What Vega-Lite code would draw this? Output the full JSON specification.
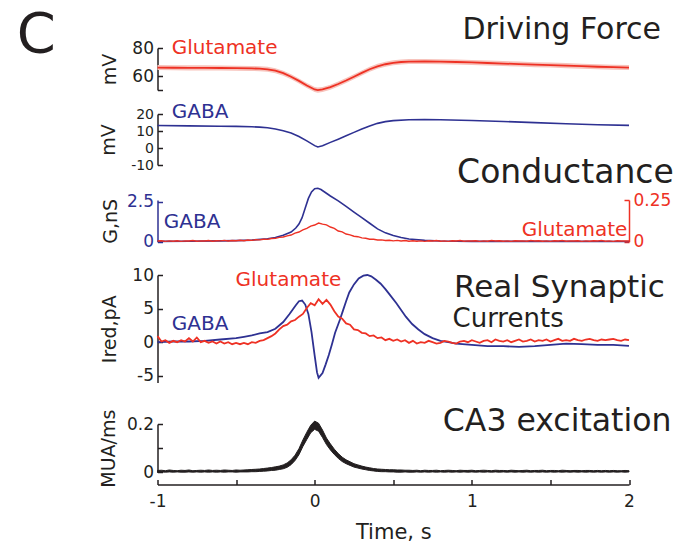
{
"$schema": "https://vega.github.io/schema/vega-lite/v6.json",
"autosize": {"type": "none"},
"padding": {"left": 157.5, "top": 48, "right": 534.5, "bottom": 500},
"background": "white",
"spacing": 0,
"bounds": "flush",
"resolve": {"scale": {"x": "independent", "y": "independent"}},
"config": {
  "view": {"stroke": null},
  "axis": {"grid": false, "domainColor": "#231f20", "tickColor": "#231f20", "labelColor": "#231f20", "titleColor": "#231f20", "labelFont": "DejaVu Sans", "titleFont": "DejaVu Sans", "labelFontSize": 17, "titleFontSize": 19, "titleFontWeight": "normal", "tickSize": -5, "labelPadding": 9, "domainWidth": 1.5, "tickWidth": 1.5, "labelFlush": false, "labelOverlap": false, "tickCount": 20, "titlePadding": 8},
  "text": {"font": "DejaVu Sans"}
},
"datasets": {
  "gluDF": [
    {"t":-1,"v":66.0,"lo":64.2,"hi":67.8},{"t":-0.9,"v":65.9,"lo":64.1,"hi":67.7},{"t":-0.8,"v":65.8,"lo":64.0,"hi":67.6},{"t":-0.7,"v":65.8,"lo":64.0,"hi":67.6},{"t":-0.6,"v":65.7,"lo":63.9,"hi":67.5},{"t":-0.5,"v":65.6,"lo":63.8,"hi":67.4},{"t":-0.4,"v":65.4,"lo":63.6,"hi":67.2},{"t":-0.35,"v":65.2,"lo":63.4,"hi":67.0},{"t":-0.3,"v":64.8,"lo":63.0,"hi":66.6},{"t":-0.25,"v":63.8,"lo":62.0,"hi":65.6},{"t":-0.2,"v":62.0,"lo":60.2,"hi":63.8},{"t":-0.15,"v":59.5,"lo":57.7,"hi":61.3},{"t":-0.1,"v":56.5,"lo":54.7,"hi":58.3},{"t":-0.05,"v":53.2,"lo":51.4,"hi":55.0},{"t":0,"v":50.4,"lo":48.6,"hi":52.2},{"t":0.02,"v":49.9,"lo":48.1,"hi":51.7},{"t":0.05,"v":50.4,"lo":48.6,"hi":52.2},{"t":0.1,"v":52.0,"lo":50.2,"hi":53.8},{"t":0.15,"v":54.3,"lo":52.5,"hi":56.1},{"t":0.2,"v":56.8,"lo":55.0,"hi":58.6},{"t":0.25,"v":59.5,"lo":57.7,"hi":61.3},{"t":0.3,"v":62.2,"lo":60.4,"hi":64.0},{"t":0.35,"v":64.8,"lo":63.0,"hi":66.6},{"t":0.4,"v":66.9,"lo":65.1,"hi":68.7},{"t":0.45,"v":68.4,"lo":66.6,"hi":70.2},{"t":0.5,"v":69.4,"lo":67.6,"hi":71.2},{"t":0.55,"v":70.0,"lo":68.2,"hi":71.8},{"t":0.6,"v":70.3,"lo":68.5,"hi":72.1},{"t":0.7,"v":70.4,"lo":68.6,"hi":72.2},{"t":0.8,"v":70.2,"lo":68.4,"hi":72.0},{"t":0.9,"v":70.0,"lo":68.2,"hi":71.8},{"t":1.0,"v":69.7,"lo":67.9,"hi":71.5},{"t":1.1,"v":69.3,"lo":67.5,"hi":71.1},{"t":1.2,"v":68.9,"lo":67.1,"hi":70.7},{"t":1.3,"v":68.5,"lo":66.7,"hi":70.3},{"t":1.4,"v":68.1,"lo":66.3,"hi":69.9},{"t":1.5,"v":67.8,"lo":66.0,"hi":69.6},{"t":1.6,"v":67.4,"lo":65.6,"hi":69.2},{"t":1.7,"v":67.0,"lo":65.2,"hi":68.8},{"t":1.8,"v":66.6,"lo":64.8,"hi":68.4},{"t":1.9,"v":66.3,"lo":64.5,"hi":68.1},{"t":2.0,"v":66.0,"lo":64.2,"hi":67.8}
  ],
  "gabaDF": [
    {"t":-1,"v":13.2},{"t":-0.8,"v":13.0},{"t":-0.6,"v":12.8},{"t":-0.5,"v":12.7},{"t":-0.4,"v":12.5},{"t":-0.35,"v":12.3},{"t":-0.3,"v":11.9},{"t":-0.25,"v":11.2},{"t":-0.2,"v":10.2},{"t":-0.15,"v":8.8},{"t":-0.1,"v":6.8},{"t":-0.05,"v":4.2},{"t":0,"v":1.4},{"t":0.02,"v":0.6},{"t":0.05,"v":1.3},{"t":0.1,"v":3.3},{"t":0.15,"v":5.2},{"t":0.2,"v":7.2},{"t":0.25,"v":9.2},{"t":0.3,"v":11.2},{"t":0.35,"v":13.0},{"t":0.4,"v":14.5},{"t":0.45,"v":15.5},{"t":0.5,"v":16.1},{"t":0.6,"v":16.6},{"t":0.7,"v":16.7},{"t":0.8,"v":16.6},{"t":1.0,"v":16.2},{"t":1.2,"v":15.6},{"t":1.4,"v":14.9},{"t":1.6,"v":14.3},{"t":1.8,"v":13.7},{"t":2.0,"v":13.3}
  ],
  "gabaG": [
    {"t":-1,"v":0.02},{"t":-0.8,"v":0.03},{"t":-0.6,"v":0.05},{"t":-0.5,"v":0.07},{"t":-0.4,"v":0.1},{"t":-0.3,"v":0.18},{"t":-0.25,"v":0.26},{"t":-0.2,"v":0.4},{"t":-0.15,"v":0.6},{"t":-0.12,"v":0.85},{"t":-0.1,"v":1.1},{"t":-0.08,"v":1.5},{"t":-0.06,"v":2.1},{"t":-0.04,"v":2.7},{"t":-0.02,"v":3.1},{"t":0,"v":3.3},{"t":0.02,"v":3.33},{"t":0.04,"v":3.25},{"t":0.07,"v":3.05},{"t":0.1,"v":2.85},{"t":0.15,"v":2.55},{"t":0.2,"v":2.2},{"t":0.25,"v":1.85},{"t":0.3,"v":1.5},{"t":0.35,"v":1.15},{"t":0.4,"v":0.8},{"t":0.45,"v":0.55},{"t":0.5,"v":0.38},{"t":0.55,"v":0.26},{"t":0.6,"v":0.17},{"t":0.7,"v":0.08},{"t":0.8,"v":0.04},{"t":1.0,"v":0.02},{"t":1.5,"v":0.02},{"t":2.0,"v":0.01}
  ],
  "gabaI": [
    {"t":-1,"v":0.0},{"t":-0.9,"v":0.1},{"t":-0.8,"v":0.1},{"t":-0.7,"v":0.2},{"t":-0.6,"v":0.4},{"t":-0.5,"v":0.6},{"t":-0.45,"v":0.8},{"t":-0.4,"v":1.0},{"t":-0.35,"v":1.3},{"t":-0.3,"v":1.5},{"t":-0.25,"v":2.0},{"t":-0.2,"v":3.0},{"t":-0.16,"v":4.2},{"t":-0.12,"v":5.5},{"t":-0.1,"v":6.1},{"t":-0.08,"v":6.2},{"t":-0.06,"v":5.6},{"t":-0.04,"v":4.2},{"t":-0.02,"v":1.5},{"t":0,"v":-2.0},{"t":0.015,"v":-4.5},{"t":0.025,"v":-5.3},{"t":0.05,"v":-4.6},{"t":0.07,"v":-3.3},{"t":0.09,"v":-1.9},{"t":0.11,"v":-0.3},{"t":0.13,"v":1.4},{"t":0.16,"v":3.3},{"t":0.18,"v":4.7},{"t":0.2,"v":6.1},{"t":0.22,"v":7.4},{"t":0.25,"v":8.6},{"t":0.28,"v":9.5},{"t":0.31,"v":9.9},{"t":0.335,"v":10.0},{"t":0.36,"v":9.8},{"t":0.39,"v":9.3},{"t":0.42,"v":8.7},{"t":0.45,"v":7.9},{"t":0.48,"v":7.0},{"t":0.52,"v":5.8},{"t":0.55,"v":4.8},{"t":0.58,"v":3.8},{"t":0.62,"v":2.7},{"t":0.66,"v":1.9},{"t":0.7,"v":1.2},{"t":0.75,"v":0.6},{"t":0.8,"v":0.2},{"t":0.85,"v":0.0},{"t":0.9,"v":-0.2},{"t":1.0,"v":-0.4},{"t":1.1,"v":-0.6},{"t":1.2,"v":-0.6},{"t":1.3,"v":-0.7},{"t":1.4,"v":-0.6},{"t":1.5,"v":-0.4},{"t":1.6,"v":-0.2},{"t":1.7,"v":-0.3},{"t":1.8,"v":-0.4},{"t":1.9,"v":-0.4},{"t":2.0,"v":-0.55}
  ],
  "noisy": [
    {"t":-1,"gG":0.004,"gI":0.9,"mlo":0.001,"mhi":0.008},
    {"t":-0.975,"gG":0.006,"gI":0.1,"mlo":0.002,"mhi":0.009},
    {"t":-0.95,"gG":0.002,"gI":0.3,"mlo":0.001,"mhi":0.007},
    {"t":-0.925,"gG":0.005,"gI":-0.1,"mlo":0.002,"mhi":0.010},
    {"t":-0.9,"gG":0.003,"gI":0.2,"mlo":0.001,"mhi":0.008},
    {"t":-0.875,"gG":0.006,"gI":0.0,"mlo":0.002,"mhi":0.007},
    {"t":-0.85,"gG":0.002,"gI":0.3,"mlo":0.001,"mhi":0.009},
    {"t":-0.825,"gG":0.005,"gI":0.1,"mlo":0.001,"mhi":0.008},
    {"t":-0.8,"gG":0.004,"gI":0.6,"mlo":0.002,"mhi":0.010},
    {"t":-0.775,"gG":0.007,"gI":0.1,"mlo":0.001,"mhi":0.007},
    {"t":-0.75,"gG":0.003,"gI":0.7,"mlo":0.002,"mhi":0.008},
    {"t":-0.725,"gG":0.005,"gI":0.0,"mlo":0.001,"mhi":0.009},
    {"t":-0.7,"gG":0.004,"gI":0.2,"mlo":0.002,"mhi":0.008},
    {"t":-0.675,"gG":0.007,"gI":-0.1,"mlo":0.001,"mhi":0.010},
    {"t":-0.65,"gG":0.003,"gI":0.1,"mlo":0.002,"mhi":0.008},
    {"t":-0.625,"gG":0.006,"gI":-0.2,"mlo":0.001,"mhi":0.009},
    {"t":-0.6,"gG":0.005,"gI":0.1,"mlo":0.002,"mhi":0.008},
    {"t":-0.575,"gG":0.008,"gI":-0.2,"mlo":0.001,"mhi":0.010},
    {"t":-0.55,"gG":0.004,"gI":0.0,"mlo":0.002,"mhi":0.009},
    {"t":-0.525,"gG":0.007,"gI":-0.3,"mlo":0.002,"mhi":0.008},
    {"t":-0.5,"gG":0.006,"gI":-0.1,"mlo":0.001,"mhi":0.010},
    {"t":-0.475,"gG":0.009,"gI":-0.3,"mlo":0.002,"mhi":0.009},
    {"t":-0.45,"gG":0.006,"gI":-0.1,"mlo":0.002,"mhi":0.010},
    {"t":-0.425,"gG":0.010,"gI":-0.3,"mlo":0.002,"mhi":0.011},
    {"t":-0.4,"gG":0.008,"gI":0.0,"mlo":0.003,"mhi":0.012},
    {"t":-0.375,"gG":0.012,"gI":-0.1,"mlo":0.003,"mhi":0.013},
    {"t":-0.35,"gG":0.011,"gI":0.2,"mlo":0.004,"mhi":0.014},
    {"t":-0.325,"gG":0.015,"gI":0.3,"mlo":0.005,"mhi":0.016},
    {"t":-0.3,"gG":0.014,"gI":0.6,"mlo":0.006,"mhi":0.018},
    {"t":-0.275,"gG":0.019,"gI":0.9,"mlo":0.008,"mhi":0.020},
    {"t":-0.25,"gG":0.020,"gI":1.3,"mlo":0.009,"mhi":0.023},
    {"t":-0.225,"gG":0.026,"gI":1.9,"mlo":0.012,"mhi":0.026},
    {"t":-0.2,"gG":0.028,"gI":2.4,"mlo":0.015,"mhi":0.031},
    {"t":-0.175,"gG":0.035,"gI":2.6,"mlo":0.021,"mhi":0.039},
    {"t":-0.15,"gG":0.040,"gI":3.1,"mlo":0.032,"mhi":0.052},
    {"t":-0.125,"gG":0.051,"gI":3.3,"mlo":0.049,"mhi":0.071},
    {"t":-0.1,"gG":0.058,"gI":3.8,"mlo":0.073,"mhi":0.098},
    {"t":-0.075,"gG":0.071,"gI":4.2,"mlo":0.107,"mhi":0.134},
    {"t":-0.05,"gG":0.080,"gI":5.1,"mlo":0.136,"mhi":0.166},
    {"t":-0.025,"gG":0.093,"gI":5.8,"mlo":0.164,"mhi":0.195},
    {"t":0,"gG":0.100,"gI":5.5,"mlo":0.178,"mhi":0.212},
    {"t":0.025,"gG":0.112,"gI":6.4,"mlo":0.170,"mhi":0.203},
    {"t":0.05,"gG":0.105,"gI":5.7,"mlo":0.144,"mhi":0.175},
    {"t":0.075,"gG":0.101,"gI":6.3,"mlo":0.115,"mhi":0.142},
    {"t":0.1,"gG":0.088,"gI":5.6,"mlo":0.093,"mhi":0.118},
    {"t":0.125,"gG":0.080,"gI":4.6,"mlo":0.074,"mhi":0.096},
    {"t":0.15,"gG":0.064,"gI":3.8,"mlo":0.058,"mhi":0.078},
    {"t":0.175,"gG":0.059,"gI":3.5,"mlo":0.045,"mhi":0.063},
    {"t":0.2,"gG":0.046,"gI":2.8,"mlo":0.036,"mhi":0.052},
    {"t":0.225,"gG":0.041,"gI":2.6,"mlo":0.029,"mhi":0.044},
    {"t":0.25,"gG":0.033,"gI":1.9,"mlo":0.022,"mhi":0.036},
    {"t":0.275,"gG":0.030,"gI":1.8,"mlo":0.018,"mhi":0.031},
    {"t":0.3,"gG":0.023,"gI":1.4,"mlo":0.014,"mhi":0.026},
    {"t":0.325,"gG":0.021,"gI":1.3,"mlo":0.011,"mhi":0.022},
    {"t":0.35,"gG":0.015,"gI":0.9,"mlo":0.008,"mhi":0.019},
    {"t":0.375,"gG":0.015,"gI":1.0,"mlo":0.006,"mhi":0.016},
    {"t":0.4,"gG":0.010,"gI":0.6,"mlo":0.004,"mhi":0.014},
    {"t":0.425,"gG":0.011,"gI":0.7,"mlo":0.003,"mhi":0.013},
    {"t":0.45,"gG":0.007,"gI":0.3,"mlo":0.003,"mhi":0.012},
    {"t":0.475,"gG":0.009,"gI":0.5,"mlo":0.002,"mhi":0.011},
    {"t":0.5,"gG":0.005,"gI":0.2,"mlo":0.002,"mhi":0.011},
    {"t":0.525,"gG":0.008,"gI":0.4,"mlo":0.001,"mhi":0.010},
    {"t":0.55,"gG":0.004,"gI":0.1,"mlo":0.001,"mhi":0.010},
    {"t":0.575,"gG":0.007,"gI":0.3,"mlo":0.002,"mhi":0.009},
    {"t":0.6,"gG":0.003,"gI":-0.1,"mlo":0.001,"mhi":0.009},
    {"t":0.625,"gG":0.006,"gI":0.2,"mlo":0.001,"mhi":0.008},
    {"t":0.65,"gG":0.003,"gI":-0.2,"mlo":0.002,"mhi":0.009},
    {"t":0.675,"gG":0.005,"gI":0.0,"mlo":0.001,"mhi":0.007},
    {"t":0.7,"gG":0.002,"gI":-0.1,"mlo":0.002,"mhi":0.009},
    {"t":0.725,"gG":0.006,"gI":0.2,"mlo":0.001,"mhi":0.008},
    {"t":0.75,"gG":0.004,"gI":0.0,"mlo":0.002,"mhi":0.008},
    {"t":0.775,"gG":0.007,"gI":-0.2,"mlo":0.001,"mhi":0.009},
    {"t":0.8,"gG":0.003,"gI":-0.1,"mlo":0.002,"mhi":0.007},
    {"t":0.825,"gG":0.005,"gI":0.2,"mlo":0.001,"mhi":0.008},
    {"t":0.85,"gG":0.002,"gI":0.1,"mlo":0.002,"mhi":0.009},
    {"t":0.875,"gG":0.006,"gI":-0.1,"mlo":0.001,"mhi":0.008},
    {"t":0.9,"gG":0.004,"gI":-0.2,"mlo":0.002,"mhi":0.007},
    {"t":0.925,"gG":0.007,"gI":0.1,"mlo":0.001,"mhi":0.009},
    {"t":0.95,"gG":0.003,"gI":0.2,"mlo":0.002,"mhi":0.008},
    {"t":0.975,"gG":0.005,"gI":0.0,"mlo":0.001,"mhi":0.008},
    {"t":1.0,"gG":0.004,"gI":0.3,"mlo":0.002,"mhi":0.009},
    {"t":1.025,"gG":0.006,"gI":0.1,"mlo":0.001,"mhi":0.007},
    {"t":1.05,"gG":0.002,"gI":-0.1,"mlo":0.002,"mhi":0.008},
    {"t":1.075,"gG":0.005,"gI":0.2,"mlo":0.001,"mhi":0.009},
    {"t":1.1,"gG":0.003,"gI":0.3,"mlo":0.002,"mhi":0.008},
    {"t":1.125,"gG":0.007,"gI":0.0,"mlo":0.001,"mhi":0.007},
    {"t":1.15,"gG":0.004,"gI":0.4,"mlo":0.002,"mhi":0.009},
    {"t":1.175,"gG":0.006,"gI":0.2,"mlo":0.001,"mhi":0.008},
    {"t":1.2,"gG":0.003,"gI":0.1,"mlo":0.002,"mhi":0.008},
    {"t":1.225,"gG":0.005,"gI":0.3,"mlo":0.001,"mhi":0.007},
    {"t":1.25,"gG":0.002,"gI":0.0,"mlo":0.002,"mhi":0.009},
    {"t":1.275,"gG":0.006,"gI":0.2,"mlo":0.001,"mhi":0.008},
    {"t":1.3,"gG":0.004,"gI":0.4,"mlo":0.002,"mhi":0.007},
    {"t":1.325,"gG":0.005,"gI":0.1,"mlo":0.001,"mhi":0.008},
    {"t":1.35,"gG":0.003,"gI":0.2,"mlo":0.002,"mhi":0.009},
    {"t":1.375,"gG":0.007,"gI":0.4,"mlo":0.001,"mhi":0.007},
    {"t":1.4,"gG":0.004,"gI":0.1,"mlo":0.002,"mhi":0.008},
    {"t":1.425,"gG":0.006,"gI":0.3,"mlo":0.001,"mhi":0.008},
    {"t":1.45,"gG":0.003,"gI":0.2,"mlo":0.002,"mhi":0.009},
    {"t":1.475,"gG":0.005,"gI":0.4,"mlo":0.001,"mhi":0.007},
    {"t":1.5,"gG":0.002,"gI":0.1,"mlo":0.002,"mhi":0.008},
    {"t":1.525,"gG":0.006,"gI":0.3,"mlo":0.001,"mhi":0.008},
    {"t":1.55,"gG":0.004,"gI":0.5,"mlo":0.002,"mhi":0.007},
    {"t":1.575,"gG":0.007,"gI":0.2,"mlo":0.001,"mhi":0.009},
    {"t":1.6,"gG":0.003,"gI":0.3,"mlo":0.002,"mhi":0.008},
    {"t":1.625,"gG":0.005,"gI":0.2,"mlo":0.001,"mhi":0.007},
    {"t":1.65,"gG":0.004,"gI":0.5,"mlo":0.002,"mhi":0.008},
    {"t":1.675,"gG":0.006,"gI":0.3,"mlo":0.001,"mhi":0.008},
    {"t":1.7,"gG":0.002,"gI":0.2,"mlo":0.002,"mhi":0.007},
    {"t":1.725,"gG":0.005,"gI":0.4,"mlo":0.001,"mhi":0.008},
    {"t":1.75,"gG":0.003,"gI":0.5,"mlo":0.002,"mhi":0.008},
    {"t":1.775,"gG":0.006,"gI":0.3,"mlo":0.001,"mhi":0.007},
    {"t":1.8,"gG":0.004,"gI":0.2,"mlo":0.002,"mhi":0.008},
    {"t":1.825,"gG":0.007,"gI":0.4,"mlo":0.001,"mhi":0.007},
    {"t":1.85,"gG":0.003,"gI":0.3,"mlo":0.002,"mhi":0.008},
    {"t":1.875,"gG":0.005,"gI":0.4,"mlo":0.001,"mhi":0.007},
    {"t":1.9,"gG":0.002,"gI":0.5,"mlo":0.002,"mhi":0.008},
    {"t":1.925,"gG":0.006,"gI":0.3,"mlo":0.001,"mhi":0.007},
    {"t":1.95,"gG":0.004,"gI":0.2,"mlo":0.002,"mhi":0.007},
    {"t":1.975,"gG":0.005,"gI":0.4,"mlo":0.001,"mhi":0.008},
    {"t":2.0,"gG":0.004,"gI":0.3,"mlo":0.002,"mhi":0.007}
  ]
},
"vconcat": [
  {
    "width": 471.5, "height": 66,
    "layer": [
      {"data": {"name": "gluDF"}, "mark": {"type": "area", "color": "#f7c3bc", "clip": false},
       "encoding": {
         "x": {"field": "t", "type": "quantitative", "scale": {"domain": [-1, 2]}, "axis": null},
         "y": {"field": "lo", "type": "quantitative", "scale": {"domain": [50, 80], "range": [42, 0]},
               "axis": {"title": "mV", "values": [50, 60, 80], "tickCount": 20, "labelOverlap": false, "labelExpr": "datum.value === 50 ? '' : toString(datum.value)", "titlePadding": 12}},
         "y2": {"field": "hi"}}},
      {"data": {"name": "gluDF"}, "mark": {"type": "line", "color": "#ee3124", "strokeWidth": 1.8, "clip": false},
       "encoding": {"x": {"field": "t", "type": "quantitative"}, "y": {"field": "v", "type": "quantitative"}}},
      {"data": {"values": [{"t": -1.895, "v": 89.3, "label": "C"}]}, "mark": {"type": "text", "align": "left", "baseline": "middle", "fontSize": 56, "color": "#231f20", "clip": false},
       "encoding": {"x": {"field": "t", "type": "quantitative"}, "y": {"field": "v", "type": "quantitative"}, "text": {"field": "label"}}},
      {"data": {"values": [{"t": 2.204, "v": 92.9, "label": "Driving Force"}]}, "mark": {"type": "text", "align": "right", "baseline": "middle", "fontSize": 30, "color": "#231f20", "clip": false},
       "encoding": {"x": {"field": "t", "type": "quantitative"}, "y": {"field": "v", "type": "quantitative"}, "text": {"field": "label"}}},
      {"data": {"values": [{"t": -0.909, "v": 80, "label": "Glutamate"}]}, "mark": {"type": "text", "align": "left", "baseline": "middle", "fontSize": 20, "color": "#ee3124", "clip": false},
       "encoding": {"x": {"field": "t", "type": "quantitative"}, "y": {"field": "v", "type": "quantitative"}, "text": {"field": "label"}}}
    ]
  },
  {
    "width": 471.5, "height": 86,
    "layer": [
      {"data": {"name": "gabaDF"}, "mark": {"type": "line", "color": "#2e3192", "strokeWidth": 1.6, "clip": false},
       "encoding": {
         "x": {"field": "t", "type": "quantitative", "scale": {"domain": [-1, 2]}, "axis": null},
         "y": {"field": "v", "type": "quantitative", "scale": {"domain": [-10, 20], "range": [51, 0]},
               "axis": {"title": "mV", "values": [-10, 0, 10, 20], "tickCount": 20, "labelOverlap": false, "labelFontSize": 14, "labelExpr": "toString(datum.value)", "titlePadding": 12}}}},
      {"data": {"values": [{"t": -0.909, "v": 21.2, "label": "GABA"}]}, "mark": {"type": "text", "align": "left", "baseline": "middle", "fontSize": 20, "color": "#2e3192", "clip": false},
       "encoding": {"x": {"field": "t", "type": "quantitative"}, "y": {"field": "v", "type": "quantitative"}, "text": {"field": "label"}}}
    ]
  },
  {
    "width": 471.5, "height": 75,
    "layer": [
      {"layer": [
        {"data": {"name": "gabaG"}, "mark": {"type": "line", "color": "#2e3192", "strokeWidth": 1.6, "clip": false},
         "encoding": {
           "x": {"field": "t", "type": "quantitative", "scale": {"domain": [-1, 2]}, "axis": null},
           "y": {"field": "v", "type": "quantitative", "scale": {"domain": [0, 2.5], "range": [41.7, 0]},
                 "axis": {"title": "G,nS", "values": [0, 2.5], "tickCount": 20, "labelOverlap": false, "labelExpr": "toString(datum.value)", "domainColor": "#2e3192", "tickColor": "#2e3192", "labelColor": "#2e3192", "titlePadding": 6}}}},
        {"data": {"values": [{"t": 2.285, "v": 4.3, "label": "Conductance"}]}, "mark": {"type": "text", "align": "right", "baseline": "middle", "fontSize": 33, "color": "#231f20", "clip": false},
         "encoding": {"x": {"field": "t", "type": "quantitative"}, "y": {"field": "v", "type": "quantitative"}, "text": {"field": "label"}}},
        {"data": {"values": [{"t": -0.96, "v": 1.24, "label": "GABA"}]}, "mark": {"type": "text", "align": "left", "baseline": "middle", "fontSize": 20, "color": "#2e3192", "clip": false},
         "encoding": {"x": {"field": "t", "type": "quantitative"}, "y": {"field": "v", "type": "quantitative"}, "text": {"field": "label"}}},
        {"data": {"values": [{"t": 1.99, "v": 0.76, "label": "Glutamate"}]}, "mark": {"type": "text", "align": "right", "baseline": "middle", "fontSize": 20, "color": "#ee3124", "clip": false},
         "encoding": {"x": {"field": "t", "type": "quantitative"}, "y": {"field": "v", "type": "quantitative"}, "text": {"field": "label"}}}
      ]},
      {"layer": [
        {"data": {"name": "noisy"}, "mark": {"type": "line", "color": "#ee3124", "strokeWidth": 1.4, "clip": false},
         "encoding": {
           "x": {"field": "t", "type": "quantitative"},
           "y": {"field": "gG", "type": "quantitative", "scale": {"domain": [0, 0.25], "range": [41.7, 0]},
                 "axis": {"orient": "right", "title": null, "values": [0, 0.25], "tickCount": 20, "labelOverlap": false, "labelExpr": "toString(datum.value)", "domainColor": "#ee3124", "tickColor": "#ee3124", "labelColor": "#ee3124"}}}}
      ]}
    ],
    "resolve": {"scale": {"y": "independent"}}
  },
  {
    "width": 471.5, "height": 148.3,
    "layer": [
      {"data": {"name": "gabaI"}, "mark": {"type": "line", "color": "#2e3192", "strokeWidth": 1.8, "clip": false},
       "encoding": {
         "x": {"field": "t", "type": "quantitative", "scale": {"domain": [-1, 2]}, "axis": null},
         "y": {"field": "v", "type": "quantitative", "scale": {"domain": [-5, 10], "range": [107.5, 0]},
               "axis": {"title": "Ired,pA", "values": [-5, 0, 5, 10], "tickCount": 20, "labelOverlap": false, "labelExpr": "toString(datum.value)", "titlePadding": 12}}}},
      {"data": {"name": "noisy"}, "mark": {"type": "line", "color": "#ee3124", "strokeWidth": 1.8, "clip": false},
       "encoding": {"x": {"field": "t", "type": "quantitative"}, "y": {"field": "gI", "type": "quantitative"}}},
      {"data": {"values": [{"t": -0.167, "v": 9.2, "label": "Glutamate"}]}, "mark": {"type": "text", "align": "center", "baseline": "middle", "fontSize": 20, "color": "#ee3124", "clip": false},
       "encoding": {"x": {"field": "t", "type": "quantitative"}, "y": {"field": "v", "type": "quantitative"}, "text": {"field": "label"}}},
      {"data": {"values": [{"t": -0.909, "v": 2.7, "label": "GABA"}]}, "mark": {"type": "text", "align": "left", "baseline": "middle", "fontSize": 20, "color": "#2e3192", "clip": false},
       "encoding": {"x": {"field": "t", "type": "quantitative"}, "y": {"field": "v", "type": "quantitative"}, "text": {"field": "label"}}},
      {"data": {"values": [{"t": 0.887, "v": 8.05, "label": "Real Synaptic"}]}, "mark": {"type": "text", "align": "left", "baseline": "middle", "fontSize": 31, "color": "#231f20", "clip": false},
       "encoding": {"x": {"field": "t", "type": "quantitative"}, "y": {"field": "v", "type": "quantitative"}, "text": {"field": "label"}}},
      {"data": {"values": [{"t": 0.877, "v": 3.4, "label": "Currents"}]}, "mark": {"type": "text", "align": "left", "baseline": "middle", "fontSize": 26, "color": "#231f20", "clip": false},
       "encoding": {"x": {"field": "t", "type": "quantitative"}, "y": {"field": "v", "type": "quantitative"}, "text": {"field": "label"}}}
    ]
  },
  {
    "width": 471.5, "height": 48.4,
    "layer": [
      {"data": {"name": "noisy"}, "mark": {"type": "area", "color": "#231f20", "stroke": "#231f20", "strokeWidth": 1, "clip": false},
       "encoding": {
         "x": {"field": "t", "type": "quantitative", "scale": {"domain": [-1, 2]},
               "axis": {"title": "Time, s", "values": [-1, -0.5, 0, 0.5, 1, 1.5, 2], "tickCount": 20, "labelOverlap": false, "labelExpr": "datum.value % 1 === 0 ? toString(datum.value) : ''", "offset": 12, "labelPadding": 14, "titleFontSize": 21, "titlePadding": 12}},
         "y": {"field": "mlo", "type": "quantitative", "scale": {"domain": [0, 0.2]},
               "axis": {"title": "MUA/ms", "values": [0, 0.1, 0.2], "tickCount": 20, "labelOverlap": false, "labelExpr": "datum.value === 0.1 ? '' : toString(datum.value)", "titlePadding": 8}},
         "y2": {"field": "mhi"}}},
      {"data": {"values": [{"t": 2.27, "v": 0.21, "label": "CA3 excitation"}]}, "mark": {"type": "text", "align": "right", "baseline": "middle", "fontSize": 31.5, "color": "#231f20", "clip": false},
       "encoding": {"x": {"field": "t", "type": "quantitative"}, "y": {"field": "v", "type": "quantitative"}, "text": {"field": "label"}}}
    ]
  }
]
}
